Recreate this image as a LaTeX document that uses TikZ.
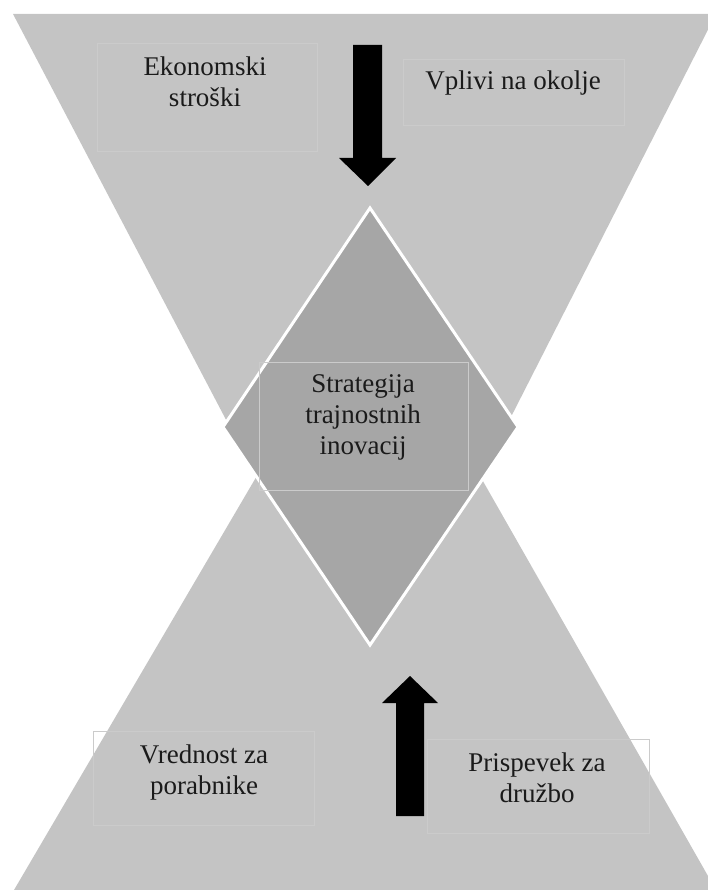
\documentclass[tikz,border=0pt]{standalone}
\usepackage{fontspec}
\setmainfont{Liberation Serif}
\definecolor{trifill}{HTML}{C4C4C4}
\definecolor{diafill}{HTML}{A6A6A6}
\definecolor{boxline}{HTML}{CBCBCB}
\definecolor{txt}{HTML}{1A1A1A}
\tikzset{
  tri/.style={fill=trifill},
  diam/.style={fill=diafill, draw=white, line width=3pt, line join=miter},
  tbox/.style={draw=boxline, line width=0.8pt, rectangle, inner sep=0pt},
  lbl/.style={text=txt, align=center, inner sep=0pt, font=\fontsize{27}{31}\selectfont},
  blockarrow/.style={fill=black}
}
\begin{document}
\begin{tikzpicture}[x=1pt,y=-1pt]
\useasboundingbox (0,0) rectangle (708,890);
\clip (0,0) rectangle (708,890);
% triangles
\fill[tri] (13,14) -- (716,14) -- (370,694) -- cycle;
\fill[tri] (14,890) -- (716,890) -- (370,283) -- cycle;
% diamond
\draw[diam] (370,208) -- (518,427) -- (370,645) -- (223,427) -- cycle;
% text boxes
\node[tbox, minimum width=220pt, minimum height=108pt] (b1) at (207,97) {};
\node[tbox, minimum width=221pt, minimum height=66pt] (b2) at (513.5,92) {};
\node[tbox, minimum width=209pt, minimum height=128pt] (b3) at (363.5,426) {};
\node[tbox, minimum width=221pt, minimum height=94pt] (b4) at (203.5,778) {};
\node[tbox, minimum width=222pt, minimum height=94pt] (b5) at (538,786) {};
% labels
\node[lbl] (t1) at (205,82) {Ekonomski\\stroški};
\node[lbl] (t2) at (513,83) {Vplivi na okolje};
\node[lbl] (t3) at (363,417.5) {Strategija\\trajnostnih\\inovacij};
\node[lbl] (t4) at (204,772) {Vrednost za\\porabnike};
\node[lbl] (t5) at (537,778) {Prispevek za\\družbo};
% down arrow
\coordinate (d1) at (353,45);
\coordinate (d2) at (382,45);
\coordinate (d3) at (382,158);
\coordinate (d4) at (396,158);
\coordinate (dtip) at (368,186);
\coordinate (d5) at (339,158);
\coordinate (d6) at (353,158);
\fill[blockarrow] (d1) -- (d2) -- (d3) -- (d4) -- (dtip) -- (d5) -- (d6) -- cycle;
% up arrow
\coordinate (u1) at (396,816);
\coordinate (u2) at (424,816);
\coordinate (u3) at (424,703);
\coordinate (u4) at (438,703);
\coordinate (utip) at (410,676);
\coordinate (u5) at (382,703);
\coordinate (u6) at (396,703);
\fill[blockarrow] (u1) -- (u2) -- (u3) -- (u4) -- (utip) -- (u5) -- (u6) -- cycle;
\end{tikzpicture}
\end{document}
